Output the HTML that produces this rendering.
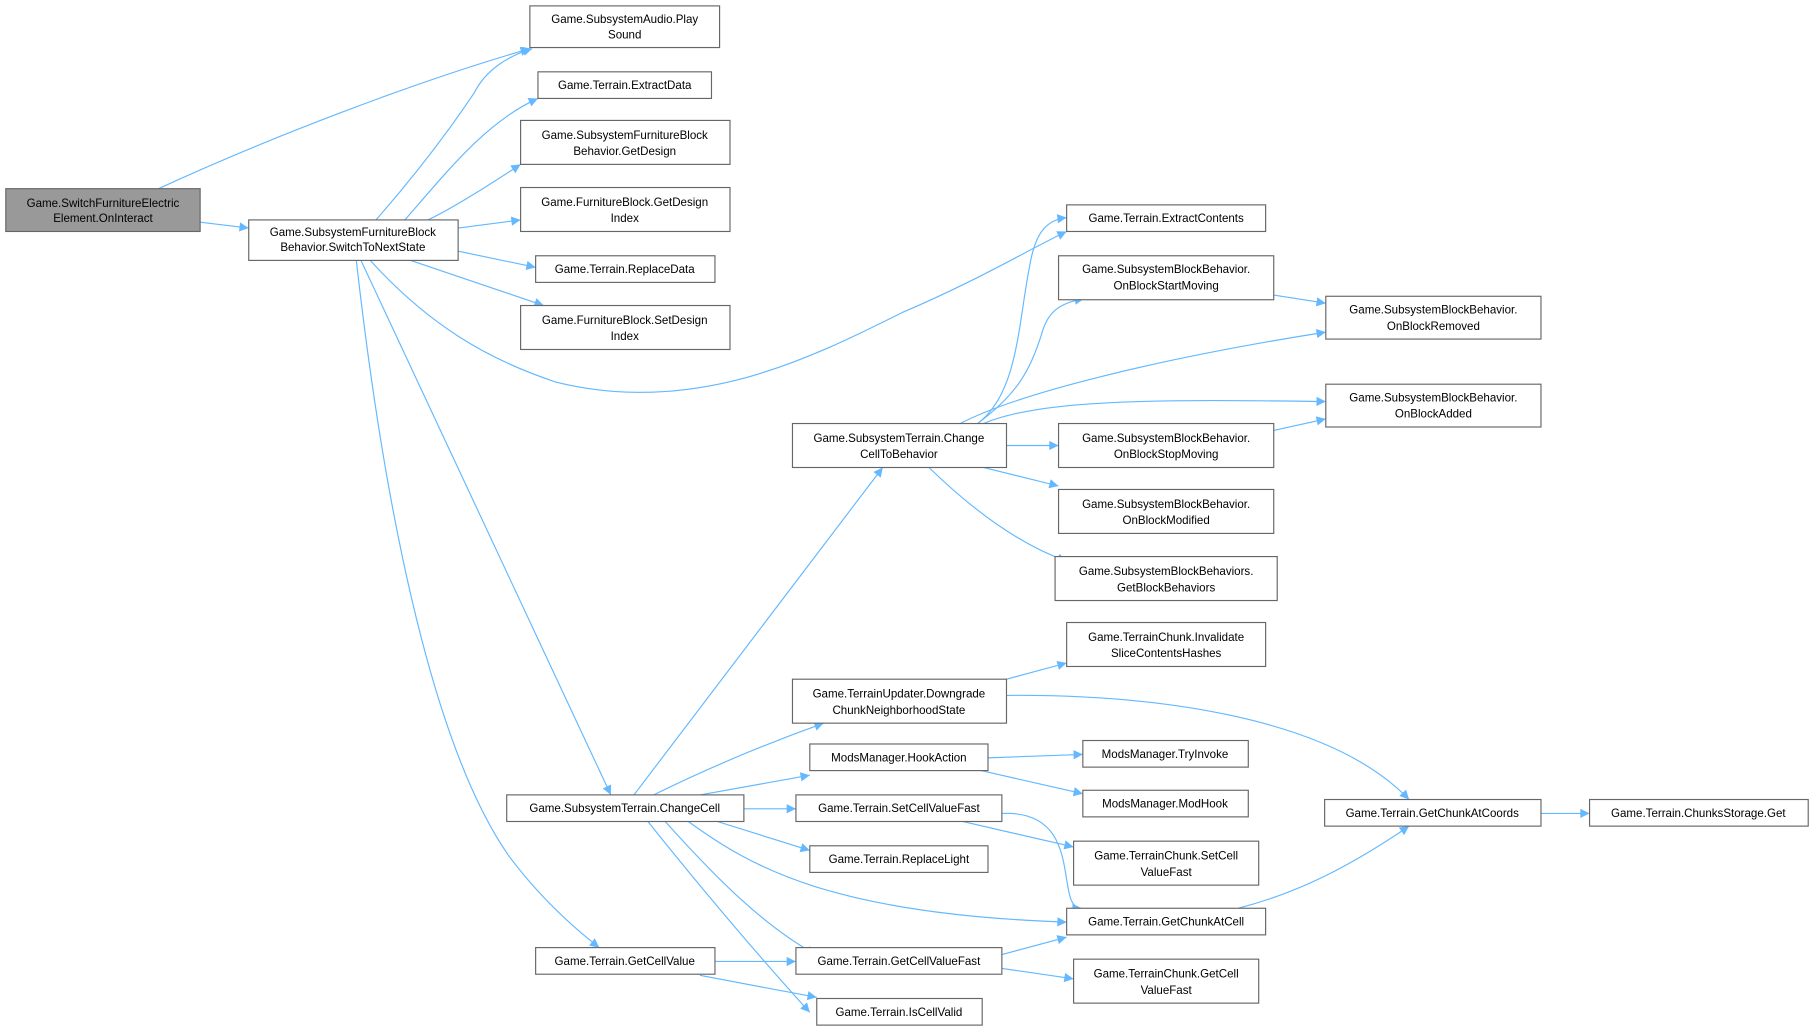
<!DOCTYPE html>
<html><head><meta charset="utf-8"><style>
body{margin:0;background:#fff}
svg{display:block}
text{font-family:"Liberation Sans",sans-serif;font-size:10px;fill:#000;text-anchor:middle}
.n{fill:#fff;stroke:#666;stroke-width:1}
.e{fill:none;stroke:#63b8ff;stroke-width:1}
</style></head><body>
<svg width="1814" height="1031" viewBox="0 0 1568 891" xmlns="http://www.w3.org/2000/svg">
<defs><marker id="a" viewBox="0 0 10 10" refX="10" refY="5" markerWidth="10" markerHeight="8" markerUnits="userSpaceOnUse" orient="auto"><path d="M0,0L10,5L0,10z" fill="#63b8ff"/></marker></defs>
<g class="e" marker-end="url(#a)">
<path d="M137,163C230,120 360,70 458,42"/>
<path d="M173,192L215,197"/>
<path d="M325,190C360,150 390,110 410,80C420,60 440,48 460,42"/>
<path d="M350,190C385,150 420,105 465,85"/>
<path d="M370,190C395,178 430,155 450,142"/>
<path d="M396,197L450,190"/>
<path d="M396,217L463,231"/>
<path d="M355,225L470,264"/>
<path d="M320,225C370,280 420,310 480,330C600,360 700,310 780,270C850,240 890,215 922,200"/>
<path d="M312,225L528,687"/>
<path d="M308,225C330,420 370,640 440,740C470,780 500,805 518,819"/>
<path d="M548,687L763,404"/>
<path d="M565,687C620,660 670,640 712,625"/>
<path d="M605,687L700,670"/>
<path d="M643,699L688,699"/>
<path d="M620,710L700,735"/>
<path d="M595,710C650,750 720,790 922,797"/>
<path d="M575,710C620,760 660,800 705,825"/>
<path d="M560,710C600,760 650,820 700,875"/>
<path d="M618,831L688,831"/>
<path d="M605,843L706,862"/>
<path d="M845,366C880,340 880,280 890,230C895,200 905,190 922,188"/>
<path d="M845,366C880,340 890,320 900,290C905,270 915,262 937,258"/>
<path d="M830,366C880,340 1000,310 1146,287"/>
<path d="M850,366C900,345 1000,345 1146,347"/>
<path d="M870,385L915,385"/>
<path d="M850,404L915,420"/>
<path d="M803,404C840,440 880,470 922,485"/>
<path d="M1101,255L1146,262"/>
<path d="M1101,372L1146,362"/>
<path d="M870,587L922,573"/>
<path d="M870,601C1000,600 1150,620 1218,691"/>
<path d="M854,655L936,652"/>
<path d="M848,666L936,686"/>
<path d="M866,703C940,700 910,785 935,785"/>
<path d="M832,710L928,732"/>
<path d="M866,825L922,810"/>
<path d="M866,837L928,846"/>
<path d="M1070,785C1130,770 1180,740 1218,714"/>
<path d="M1332,703L1374,703"/>
</g>
<g>
<rect x="5" y="163" width="168" height="37" fill="#999" stroke="#666"/>
<text x="89" y="179">Game.SwitchFurnitureElectric</text><text x="89" y="192">Element.OnInteract</text>
<rect class="n" x="215" y="190" width="181" height="35"/><text x="305" y="204">Game.SubsystemFurnitureBlock</text><text x="305" y="217">Behavior.SwitchToNextState</text>
<rect class="n" x="458" y="5" width="164" height="36"/><text x="540" y="20">Game.SubsystemAudio.Play</text><text x="540" y="33">Sound</text>
<rect class="n" x="465" y="62" width="150" height="23"/><text x="540" y="77">Game.Terrain.ExtractData</text>
<rect class="n" x="450" y="104" width="181" height="38"/><text x="540" y="120">Game.SubsystemFurnitureBlock</text><text x="540" y="134">Behavior.GetDesign</text>
<rect class="n" x="450" y="162" width="181" height="38"/><text x="540" y="178">Game.FurnitureBlock.GetDesign</text><text x="540" y="192">Index</text>
<rect class="n" x="463" y="221" width="155" height="23"/><text x="540" y="236">Game.Terrain.ReplaceData</text>
<rect class="n" x="450" y="264" width="181" height="38"/><text x="540" y="280">Game.FurnitureBlock.SetDesign</text><text x="540" y="294">Index</text>
<rect class="n" x="922" y="177" width="172" height="23"/><text x="1008" y="192">Game.Terrain.ExtractContents</text>
<rect class="n" x="915" y="221" width="186" height="38"/><text x="1008" y="236">Game.SubsystemBlockBehavior.</text><text x="1008" y="250">OnBlockStartMoving</text>
<rect class="n" x="1146" y="256" width="186" height="37"/><text x="1239" y="271">Game.SubsystemBlockBehavior.</text><text x="1239" y="285">OnBlockRemoved</text>
<rect class="n" x="1146" y="332" width="186" height="37"/><text x="1239" y="347">Game.SubsystemBlockBehavior.</text><text x="1239" y="361">OnBlockAdded</text>
<rect class="n" x="685" y="366" width="185" height="38"/><text x="777" y="382">Game.SubsystemTerrain.Change</text><text x="777" y="396">CellToBehavior</text>
<rect class="n" x="915" y="366" width="186" height="38"/><text x="1008" y="382">Game.SubsystemBlockBehavior.</text><text x="1008" y="396">OnBlockStopMoving</text>
<rect class="n" x="915" y="423" width="186" height="38"/><text x="1008" y="439">Game.SubsystemBlockBehavior.</text><text x="1008" y="453">OnBlockModified</text>
<rect class="n" x="912" y="481" width="192" height="38"/><text x="1008" y="497">Game.SubsystemBlockBehaviors.</text><text x="1008" y="511">GetBlockBehaviors</text>
<rect class="n" x="922" y="538" width="172" height="38"/><text x="1008" y="554">Game.TerrainChunk.Invalidate</text><text x="1008" y="568">SliceContentsHashes</text>
<rect class="n" x="685" y="587" width="185" height="38"/><text x="777" y="603">Game.TerrainUpdater.Downgrade</text><text x="777" y="617">ChunkNeighborhoodState</text>
<rect class="n" x="700" y="643" width="154" height="23"/><text x="777" y="658">ModsManager.HookAction</text>
<rect class="n" x="936" y="640" width="143" height="23"/><text x="1007" y="655">ModsManager.TryInvoke</text>
<rect class="n" x="936" y="683" width="143" height="23"/><text x="1007" y="698">ModsManager.ModHook</text>
<rect class="n" x="1145" y="691" width="187" height="23"/><text x="1238" y="706">Game.Terrain.GetChunkAtCoords</text>
<rect class="n" x="1374" y="691" width="189" height="23"/><text x="1468" y="706">Game.Terrain.ChunksStorage.Get</text>
<rect class="n" x="438" y="687" width="205" height="23"/><text x="540" y="702">Game.SubsystemTerrain.ChangeCell</text>
<rect class="n" x="688" y="687" width="178" height="23"/><text x="777" y="702">Game.Terrain.SetCellValueFast</text>
<rect class="n" x="700" y="731" width="154" height="23"/><text x="777" y="746">Game.Terrain.ReplaceLight</text>
<rect class="n" x="928" y="727" width="160" height="38"/><text x="1008" y="743">Game.TerrainChunk.SetCell</text><text x="1008" y="757">ValueFast</text>
<rect class="n" x="922" y="785" width="172" height="23"/><text x="1008" y="800">Game.Terrain.GetChunkAtCell</text>
<rect class="n" x="463" y="819" width="155" height="23"/><text x="540" y="834">Game.Terrain.GetCellValue</text>
<rect class="n" x="688" y="819" width="178" height="23"/><text x="777" y="834">Game.Terrain.GetCellValueFast</text>
<rect class="n" x="928" y="829" width="160" height="38"/><text x="1008" y="845">Game.TerrainChunk.GetCell</text><text x="1008" y="859">ValueFast</text>
<rect class="n" x="706" y="863" width="143" height="23"/><text x="777" y="878">Game.Terrain.IsCellValid</text>
</g>
</svg>
</body></html>
